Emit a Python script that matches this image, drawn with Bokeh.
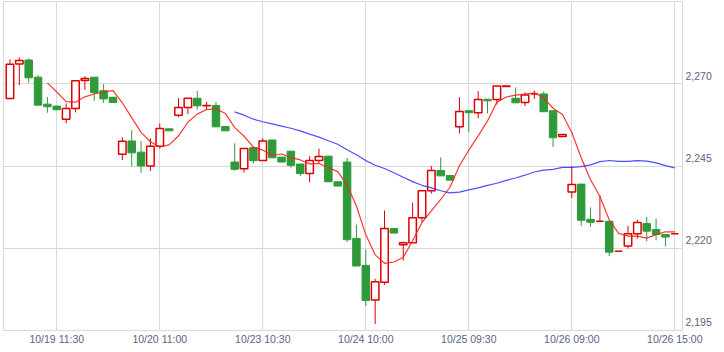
import pandas as pd
from bokeh.plotting import figure
from bokeh.models import Range1d, LinearAxis, FixedTicker, ColumnDataSource, NumeralTickFormatter
from bokeh.embed import file_html
from bokeh.resources import INLINE

# ---- data ----
opens = [2265.5, 2276.0, 2277.2, 2272.0, 2263.8, 2263.2, 2259.2, 2262.5, 2271.0, 2272.0,
         2267.9, 2265.9, 2248.6, 2252.6, 2249.2, 2245.0, 2251.0, 2256.3, 2260.4, 2262.8,
         2265.6, 2263.3, 2263.4, 2257.0, 2246.2, 2244.2, 2250.6, 2246.7, 2252.9, 2247.7,
         2249.5, 2245.6, 2242.7, 2246.7, 2248.0, 2240.2, 2246.2, 2223.0, 2214.8, 2204.3,
         2209.7, 2226.0, 2221.1, 2221.7, 2229.3, 2237.5, 2243.6, 2242.1, 2256.9, 2261.8,
         2261.2, 2265.3, 2265.2, 2269.2, 2265.6, 2264.3, 2266.9, 2266.9, 2261.8, 2254.0,
         2237.1, 2239.5, 2228.8, 2228.2, 2228.2, 2219.1, 2220.7, 2224.4, 2227.5, 2225.7,
         2224.2, 2224.4]
highs = [2277.4, 2278.0, 2277.7, 2272.6, 2266.0, 2263.3, 2264.0, 2270.9, 2272.3, 2272.0,
         2269.9, 2265.9, 2253.7, 2255.9, 2252.6, 2253.4, 2257.9, 2256.3, 2265.6, 2265.6,
         2267.8, 2264.5, 2264.5, 2257.0, 2251.9, 2250.3, 2250.6, 2253.4, 2252.9, 2247.7,
         2249.5, 2245.6, 2248.0, 2250.3, 2248.0, 2240.2, 2247.5, 2227.2, 2219.6, 2210.7,
         2231.5, 2226.0, 2222.0, 2233.9, 2237.5, 2245.0, 2247.6, 2242.1, 2265.9, 2261.8,
         2267.7, 2265.3, 2269.3, 2269.3, 2268.9, 2267.4, 2267.9, 2267.6, 2261.8, 2254.6,
         2245.0, 2239.5, 2232.4, 2236.1, 2228.2, 2219.1, 2226.8, 2228.7, 2229.5, 2229.0,
         2224.2, 2224.4]
lows = [2265.5, 2269.6, 2270.3, 2263.5, 2261.2, 2262.0, 2258.0, 2261.3, 2268.1, 2264.8,
        2264.2, 2264.3, 2246.8, 2244.9, 2242.9, 2243.5, 2250.3, 2255.7, 2259.8, 2260.8,
        2262.2, 2262.2, 2256.9, 2255.7, 2243.5, 2243.0, 2245.8, 2246.7, 2247.5, 2246.2,
        2244.5, 2241.9, 2240.0, 2245.8, 2240.2, 2238.9, 2221.9, 2214.6, 2202.4, 2197.0,
        2208.9, 2224.6, 2216.3, 2221.7, 2228.0, 2236.6, 2242.0, 2240.7, 2254.9, 2255.2,
        2259.5, 2261.0, 2263.7, 2269.2, 2264.2, 2263.2, 2265.4, 2261.5, 2250.8, 2254.0,
        2235.3, 2226.8, 2226.5, 2228.2, 2217.6, 2219.1, 2219.9, 2222.9, 2222.1, 2222.4,
        2220.6, 2224.4]
closes = [2275.9, 2277.1, 2271.8, 2263.5, 2263.0, 2262.1, 2262.5, 2270.9, 2271.6, 2267.3,
          2265.4, 2264.3, 2252.5, 2249.0, 2245.0, 2251.0, 2256.4, 2255.7, 2262.8, 2265.6,
          2263.3, 2263.4, 2256.9, 2255.7, 2244.0, 2250.3, 2246.6, 2252.6, 2247.5, 2246.2,
          2245.2, 2242.7, 2246.7, 2247.9, 2240.2, 2238.9, 2222.6, 2214.6, 2204.1, 2209.8,
          2226.0, 2224.6, 2221.7, 2229.3, 2237.5, 2243.6, 2242.0, 2240.7, 2261.6, 2261.2,
          2265.2, 2264.8, 2269.3, 2269.3, 2264.2, 2266.6, 2266.9, 2261.5, 2253.6, 2254.6,
          2239.4, 2228.5, 2227.9, 2228.2, 2218.8, 2219.1, 2224.4, 2227.8, 2225.2, 2224.2,
          2223.4, 2224.4]
tick_positions = [5, 16, 27, 38, 49, 60, 71]
tick_labels = ["10/19 11:30", "10/20 11:00", "10/23 10:30", "10/24 10:00",
               "10/25 09:30", "10/26 09:00", "10/26 15:00"]
y_ticks = [2195, 2220, 2245, 2270]

RED = "#dd0000"
GREEN = "#2e9a3a"
TXT = "#5a6480"
GRID = "#d9d9d9"
FONT = "Liberation Sans"

df = pd.DataFrame(dict(open=opens, high=highs, low=lows, close=closes))
df["x"] = list(range(len(df)))
df["ma5"] = df["close"].rolling(5).mean()
df["ma25"] = df["close"].rolling(25).mean()
up = ColumnDataSource(df[df["close"] >= df["open"]])
dn = ColumnDataSource(df[df["close"] < df["open"]])
src = ColumnDataSource(df)

p = figure(width=724, height=352,
           x_range=Range1d(-0.69, 71.82), y_range=Range1d(2195, 2295),
           output_backend="svg", toolbar_location=None, y_axis_location=None,
           min_border_left=3, min_border_top=1, min_border_right=42, min_border_bottom=22)
p.background_fill_color = "white"
p.border_fill_color = "white"
p.outline_line_color = GRID
p.outline_line_width = 1

# grids
p.xgrid.ticker = FixedTicker(ticks=tick_positions)
p.ygrid.ticker = FixedTicker(ticks=y_ticks)
p.grid.grid_line_color = GRID
p.grid.grid_line_width = 1

# x axis
xa = p.xaxis[0]
xa.ticker = FixedTicker(ticks=tick_positions)
xa.major_label_overrides = {t: l for t, l in zip(tick_positions, tick_labels)}
xa.axis_line_color = None
xa.major_tick_line_color = None
xa.minor_tick_line_color = None
xa.major_tick_out = 0
xa.major_tick_in = 0
xa.major_label_standoff = 2
xa.major_label_text_font = FONT
xa.major_label_text_font_size = "10.5px"
xa.major_label_text_color = TXT

# right axis: labels sit just above their grid lines
d = 2.5
p.extra_y_ranges = {"lab": Range1d(2195 - d, 2295 - d)}
ya = LinearAxis(y_range_name="lab", ticker=FixedTicker(ticks=y_ticks),
                formatter=NumeralTickFormatter(format="0,0"))
ya.axis_line_color = None
ya.major_tick_line_color = None
ya.minor_tick_line_color = None
ya.major_tick_out = 0
ya.major_tick_in = 0
ya.major_label_standoff = 3
ya.major_label_text_font = FONT
ya.major_label_text_font_size = "10.5px"
ya.major_label_text_color = TXT
p.add_layout(ya, "right")

# candles
p.segment("x", "high", "x", "low", source=up, line_color=RED, line_width=1)
p.segment("x", "high", "x", "low", source=dn, line_color=GREEN, line_width=1)
p.vbar(x="x", width=0.8, top="close", bottom="open", source=up,
       fill_color="white", line_color=RED, line_width=1.5)
p.vbar(x="x", width=0.8, top="open", bottom="close", source=dn,
       fill_color=GREEN, line_color=GREEN, line_width=1)

# moving averages
p.line("x", "ma5", source=src, line_color="#ff2020", line_width=1.2, line_alpha=0.9)
p.line("x", "ma25", source=src, line_color="#3030ff", line_width=1.2, line_alpha=0.85)

open("out.html", "w").write(file_html(p, INLINE))
